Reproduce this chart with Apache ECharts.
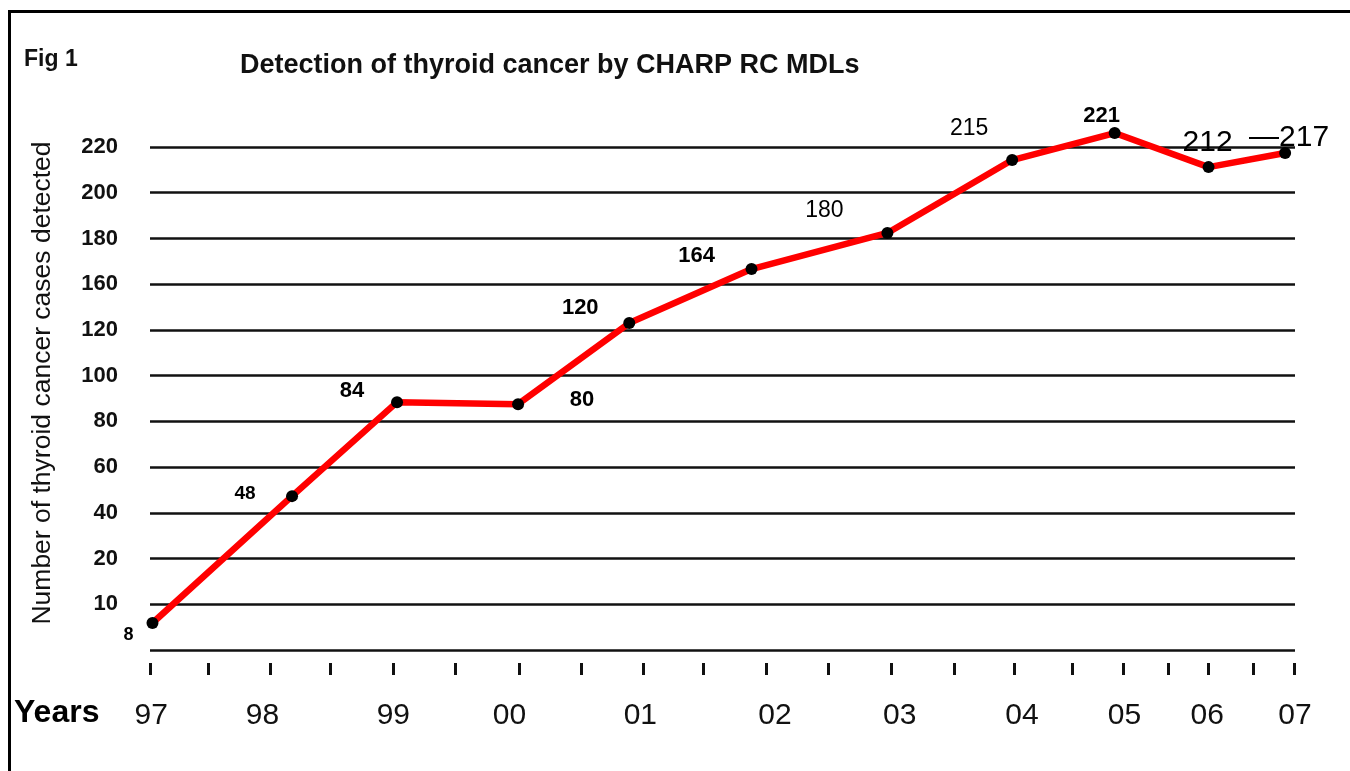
<!DOCTYPE html>
<html>
<head>
<meta charset="utf-8">
<script src="https://cdn.jsdelivr.net/npm/echarts@6/dist/echarts.min.js"></script>
<style>
  html, body { margin: 0; padding: 0; background: #fff; }
  #chart { width: 1350px; height: 771px; }
</style>
</head>
<body>
<div id="chart"></div>
<script>
// years printed under the axis and where they are drawn (the drawing compresses 05-07)
var yearLabels = ['97', '98', '99', '00', '01', '02', '03', '04', '05', '06', '07'];
var yearLabelAt = [97.01, 97.91, 98.97, 99.91, 100.97, 102.06, 103.07, 104.06, 104.89, 105.56, 106.27];
var tickAt = [97, 97.47, 97.97, 98.46, 98.97, 99.47, 99.99, 100.49, 100.99, 101.48, 101.99,
              102.49, 103, 103.51, 104, 104.47, 104.88, 105.24, 105.57, 105.93, 106.26];

// y axis labels: evenly spaced lines, uneven steps (no 140)
var yTickLabels = ['10', '20', '40', '60', '80', '100', '120', '160', '180', '200', '220'];

// printed value next to each point
var printedValues = [8, 48, 84, 80, 120, 164, 180, 215, 221, 212, 217];
// where each point sits, read against the printed y axis
var plottedLevel = [5.9, 47.3, 88.4, 87.5, 126, 166.6, 182.4, 214.3, 226.1, 211.2, 217.4];
// x of each point, in the same year units as the axis
var pointYearPos = [97.02, 98.15, 99.0, 99.98, 100.88, 101.87, 102.97, 103.98, 104.81, 105.57, 106.19];

var FONT = '"Liberation Sans", Arial, sans-serif';

// the printed y axis is piecewise linear: line k carries yTickLabels[k], bottom line = 0
function toSlot(v) {
    var lv = [0].concat(yTickLabels.map(Number));
    for (var i = 0; i < lv.length - 1; i++) {
        if (v <= lv[i + 1]) {
            return i - 1 + (v - lv[i]) / (lv[i + 1] - lv[i]);
        }
    }
    var n = lv.length - 1;
    return n - 1 + (v - lv[n]) / (lv[n] - lv[n - 1]);
}

var labelLook = [
    { offset: [-24, 12], weight: 'bold', size: 18 },
    { offset: [-47, -2], weight: 'bold', size: 19 },
    { offset: [-45, -11], weight: 'bold', size: 22 },
    { offset: [64, -4], weight: 'bold', size: 22 },
    { offset: [-49, -15], weight: 'bold', size: 22 },
    { offset: [-55, -13], weight: 'bold', size: 22 },
    { offset: [-63, -22], weight: 'normal', size: 23 },
    { offset: [-43, -31], weight: 'normal', size: 23 },
    { offset: [-13, -17], weight: 'bold', size: 22 },
    { offset: [-1, -24], weight: 'normal', size: 30 },
    { offset: [4, -15], weight: 'normal', size: 30, prefix: '\u2014' }
];

var data = pointYearPos.map(function (x, i) {
    var look = labelLook[i];
    return {
        value: [x, toSlot(plottedLevel[i])],
        label: {
            show: true,
            position: 'inside',
            offset: look.offset,
            formatter: (look.prefix || '') + printedValues[i],
            fontFamily: FONT,
            fontWeight: look.weight,
            fontSize: look.size,
            color: '#000'
        }
    };
});

var myChart = echarts.init(document.getElementById('chart'));
var option = {
    animation: false,
    backgroundColor: '#fff',
    title: [
        {
            text: 'Detection of thyroid cancer by CHARP RC MDLs',
            left: 235, top: 47,
            textStyle: { fontFamily: FONT, fontSize: 27, fontWeight: 'bold', color: '#111' }
        },
        {
            text: 'Fig 1',
            left: 19, top: 43,
            textStyle: { fontFamily: FONT, fontSize: 23, fontWeight: 'bold', color: '#111' }
        },
        {
            text: 'Years',
            left: 9, top: 692,
            textStyle: { fontFamily: FONT, fontSize: 32, fontWeight: 'bold', color: '#000' }
        }
    ],
    graphic: [
        { type: 'rect', shape: { x: 8, y: 10, width: 1342, height: 3 }, style: { fill: '#000' } },
        { type: 'rect', shape: { x: 8, y: 10, width: 3, height: 761 }, style: { fill: '#000' } },
        {
            type: 'text', x: 43, y: 383, rotation: Math.PI / 2,
            style: {
                text: 'Number of thyroid cancer cases detected',
                fontFamily: FONT, fontSize: 26.5, fill: '#111',
                textAlign: 'center', textVerticalAlign: 'middle'
            }
        }
    ],
    grid: { left: 150, right: 55, top: 147, bottom: 121 },
    xAxis: {
        type: 'value',
        min: 97,
        max: 106.27,
        offset: 13,
        axisLine: { show: false, onZero: false },
        splitLine: { show: false },
        axisTick: {
            show: true,
            customValues: tickAt,
            length: 12,
            lineStyle: { color: '#111', width: 3 }
        },
        axisLabel: {
            customValues: yearLabelAt,
            margin: 38,
            fontFamily: FONT,
            fontSize: 30,
            color: '#111',
            formatter: function (v) {
                var best = 0;
                for (var i = 1; i < yearLabelAt.length; i++) {
                    if (Math.abs(yearLabelAt[i] - v) < Math.abs(yearLabelAt[best] - v)) best = i;
                }
                return yearLabels[best];
            }
        }
    },
    yAxis: {
        type: 'value',
        min: -1,
        max: 10,
        interval: 1,
        axisLine: { show: false },
        axisTick: { show: false },
        splitLine: { lineStyle: { color: '#111', width: 2.5 } },
        axisLabel: {
            margin: 32,
            fontFamily: FONT,
            fontWeight: 'bold',
            fontSize: 22,
            color: '#111',
            formatter: function (v) {
                var k = Math.round(v);
                return k < 0 ? '' : yTickLabels[k];
            }
        }
    },
    series: [
        {
            type: 'line',
            data: data,
            clip: false,
            symbol: 'circle',
            symbolSize: 12,
            itemStyle: { color: '#000' },
            lineStyle: { color: '#ff0000', width: 6.5 },
            z: 3
        }
    ]
};
myChart.setOption(option);
window.addEventListener('resize', function () {
    myChart.resize();
});
</script>
</body>
</html>
